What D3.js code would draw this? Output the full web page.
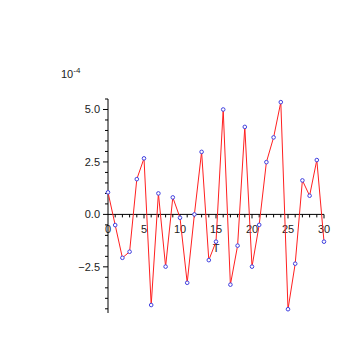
<!DOCTYPE html>
<html>
<head>
<meta charset="utf-8">
<script src="https://cdn.jsdelivr.net/npm/d3@7"></script>
<style>
  body { margin: 0; background: #ffffff; }
  text { font-family: "Liberation Sans", Arial, sans-serif; font-size: 11px; fill: #222; }
</style>
</head>
<body>
<script>
// sample index T and values (units of 10^-4)
var tValues = d3.range(0, 31);
var seriesValues = [1.05, -0.51, -2.07, -1.78, 1.68, 2.67, -4.32, 1.0, -2.49, 0.81,
                    -0.16, -3.26, 0.0, 2.98, -2.18, -1.30, 5.0, -3.35, -1.49, 4.17,
                    -2.49, -0.5, 2.49, 3.67, 5.35, -4.52, -2.35, 1.62, 0.89, 2.59, -1.30];
var xTickLabels = [0, 5, 10, 15, 20, 25, 30];
var yTickLabels = [-2.5, 0, 2.5, 5];

var width = 362, height = 362;

var svg = d3.select("body").append("svg")
    .attr("width", width)
    .attr("height", height);

var x = d3.scaleLinear().domain([0, 30]).range([108, 324]);
var y = d3.scaleLinear().domain([-4.7, 5.5]).range([313, 99]);

var data = tValues.map(function(t, i) { return {t: t, v: seriesValues[i]}; });

// x axis (at y = 0)
var xAxis = svg.append("g")
    .attr("transform", "translate(0," + y(0) + ")");
xAxis.append("line")
    .attr("x1", x(0)).attr("x2", x(30))
    .attr("stroke", "#000");
xAxis.selectAll(".minor")
    .data(d3.range(1, 31))
    .enter().append("line")
    .attr("x1", function(d) { return x(d); })
    .attr("x2", function(d) { return x(d); })
    .attr("y1", 0)
    .attr("y2", function(d) { return d % 5 == 0 ? 4 : 3; })
    .attr("stroke", "#000");
xAxis.selectAll(".lbl")
    .data(xTickLabels)
    .enter().append("text")
    .attr("x", function(d) { return x(d); })
    .attr("y", 19)
    .attr("text-anchor", "middle")
    .text(function(d) { return d; });

svg.append("text")
    .attr("x", x(15))
    .attr("y", 252)
    .attr("text-anchor", "middle")
    .text("T");

// y axis (at T = 0)
var yAxis = svg.append("g")
    .attr("transform", "translate(" + x(0) + ",0)");
yAxis.append("line")
    .attr("y1", y(5.5)).attr("y2", y(-4.7))
    .attr("stroke", "#000");
yAxis.selectAll(".minor")
    .data(d3.range(-9, 12).map(function(d) { return d * 0.5; }))
    .enter().append("line")
    .attr("y1", function(d) { return y(d); })
    .attr("y2", function(d) { return y(d); })
    .attr("x1", function(d) { return Math.abs(d % 2.5) < 1e-9 ? -5 : -3; })
    .attr("x2", 0)
    .attr("stroke", "#000");
yAxis.selectAll(".lbl")
    .data(yTickLabels)
    .enter().append("text")
    .attr("x", -8)
    .attr("y", function(d) { return y(d); })
    .attr("dy", "0.35em")
    .attr("text-anchor", "end")
    .text(function(d) { return d3.format(".1f")(d); });

// exponent label
var expo = svg.append("text")
    .attr("x", 61)
    .attr("y", 78);
expo.append("tspan").text("10");
expo.append("tspan")
    .attr("dy", -5)
    .style("font-size", "8px")
    .text("-4");

// line
var line = d3.line()
    .x(function(d) { return x(d.t); })
    .y(function(d) { return y(d.v); });

svg.append("path")
    .datum(data)
    .attr("d", line)
    .attr("fill", "none")
    .attr("stroke", "#ff2020")
    .attr("stroke-width", 1);

// points
svg.selectAll(".pt")
    .data(data)
    .enter().append("circle")
    .attr("cx", function(d) { return x(d.t); })
    .attr("cy", function(d) { return y(d.v); })
    .attr("r", 1.8)
    .attr("fill", "#ffffff")
    .attr("stroke", "#4040e0")
    .attr("stroke-width", 1);
</script>
</body>
</html>
